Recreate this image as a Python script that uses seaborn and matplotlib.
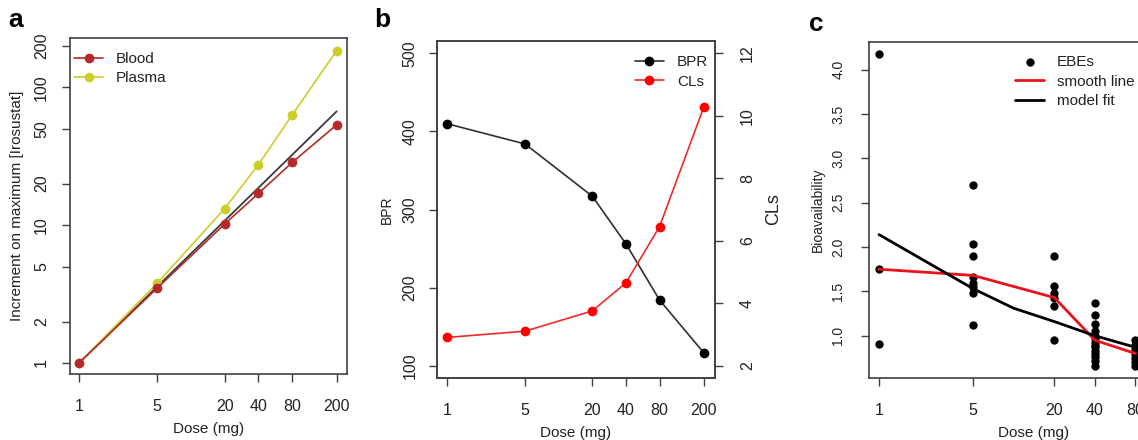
import numpy as np
import pandas as pd
import matplotlib
matplotlib.use("Agg")
import matplotlib.pyplot as plt
import seaborn as sns

# ---------------- data ----------------
dose = [1, 5, 20, 40, 80, 200]
dose_labels = ["1", "5", "20", "40", "80", "200"]

# panel a
blood = [1.0, 3.5, 10.2, 17.0, 28.5, 53.5]
plasma = [1.0, 3.8, 13.2, 27.5, 63.0, 185.0]
fit_a_dose = [1, 200]
fit_a_value = [1.0, 67.0]
a_yticks = [1, 2, 5, 10, 20, 50, 100, 200]

# panel b
bpr = [410, 384, 317, 256, 184, 116]
cls = [2.9, 3.1, 3.75, 4.65, 6.45, 10.3]
bpr_ticks = [100, 200, 300, 400, 500]
cls_ticks = [2, 4, 6, 8, 10, 12]

# panel c
ebe_d1 = [4.17, 1.75, 0.91]
ebe_d5 = [2.70, 2.03, 1.90, 1.66, 1.60, 1.55, 1.48, 1.12]
ebe_d20 = [1.90, 1.56, 1.48, 1.42, 1.34, 0.95]
ebe_d40 = [1.37, 1.23, 1.13, 1.05, 1.00, 0.97, 0.93, 0.90, 0.87, 0.83, 0.80, 0.76, 0.72, 0.66]
ebe_d80 = [0.95, 0.90, 0.85, 0.80, 0.75, 0.70, 0.66]
smooth_dose = [1, 5, 20, 40, 80]
smooth_value = [1.75, 1.68, 1.43, 0.95, 0.80]
model_dose = [1, 5, 10, 20, 40, 80]
model_value = [2.14, 1.53, 1.31, 1.16, 1.00, 0.87]
c_yticks = [1.0, 1.5, 2.0, 2.5, 3.0, 3.5, 4.0]

# ---------------- style ----------------
sns.set_theme(style="ticks")
plt.rcParams["font.family"] = ["Liberation Sans", "DejaVu Sans"]
plt.rcParams["axes.edgecolor"] = "#404040"
plt.rcParams["axes.linewidth"] = 1.2

W, H = 1138, 440
fig = plt.figure(figsize=(W / 100, H / 100), dpi=100)
TXT = "#222222"
TICK_FS = 11.5
LEG_KW = dict(frameon=False, fontsize=11, handlelength=1.9, handletextpad=0.85,
              labelspacing=0.36, borderpad=0, borderaxespad=0)


def px_axes(left, top, right, bottom):
    return fig.add_axes([left / W, 1 - bottom / H, (right - left) / W, (bottom - top) / H])


def style_axis(ax, ypad=9):
    ax.tick_params(axis="both", direction="out", length=6, width=1.0, color="#404040",
                   labelsize=TICK_FS, labelcolor=TXT)
    ax.tick_params(axis="x", pad=12)
    ax.tick_params(axis="y", pad=ypad)
    for s in ax.spines.values():
        s.set_visible(True)
        s.set_color("#404040")
        s.set_linewidth(1.2)


def set_dose_axis(ax, lo, hi):
    ax.set_xscale("log")
    ax.set_xlim(lo, hi)
    ax.minorticks_off()
    ax.set_xticks(dose)
    ax.set_xticklabels(dose_labels)


# ---------------- panel a ----------------
axa = px_axes(70, 38, 347, 374)
blood_col = "#B52A2A"
plasma_col = "#CDCD2A"
sns.lineplot(x=fit_a_dose, y=fit_a_value, ax=axa, color="#3a3a3a", lw=1.3, legend=False)
sns.lineplot(x=dose, y=plasma, ax=axa, color=plasma_col, lw=1.2, marker="o", markersize=7,
             markeredgewidth=0, label="Plasma")
sns.lineplot(x=dose, y=blood, ax=axa, color=blood_col, lw=1.2, marker="o", markersize=7,
             markeredgewidth=0, label="Blood")
axa.set_yscale("log")
set_dose_axis(axa, 0.831, 247)
axa.set_ylim(0.832, 228)
axa.minorticks_off()
axa.set_yticks(a_yticks)
axa.set_yticklabels([str(v) for v in a_yticks], rotation=90, va="center")
style_axis(axa, ypad=9)
axa.set_xlabel("Dose (mg)", fontsize=11, color=TXT, labelpad=6)
axa.set_ylabel("Increment on maximum [Irosustat]", fontsize=11, color=TXT, labelpad=7)
if axa.get_legend() is not None:
    axa.get_legend().remove()
la = axa.legend(handles=[axa.lines[2], axa.lines[1]], labels=["Blood", "Plasma"],
                loc="upper left", bbox_to_anchor=(74 / W, 1 - 52 / H),
                bbox_transform=fig.transFigure, **LEG_KW)
for t in la.get_texts():
    t.set_color(TXT)

# ---------------- panel b ----------------
axb = px_axes(437, 41, 715, 378)
sns.lineplot(x=dose, y=bpr, ax=axb, color="#303030", lw=1.2, marker="o", markersize=7,
             markeredgewidth=0, markerfacecolor="black", label="BPR")
axb.set_ylim(84, 516)
axb.set_yticks(bpr_ticks)
axb.set_yticklabels([str(v) for v in bpr_ticks], rotation=90, va="center")
axb.set_ylabel("BPR", fontsize=10, color=TXT, labelpad=6)
if axb.get_legend() is not None:
    axb.get_legend().remove()

axb2 = axb.twinx()
sns.lineplot(x=dose, y=cls, ax=axb2, color="#F02A2A", lw=1.2, marker="o", markersize=7,
             markeredgewidth=0, markerfacecolor="#FF0000", label="CLs")
axb2.set_ylim(1.6, 12.4)
axb2.set_yticks(cls_ticks)
axb2.set_yticklabels([str(v) for v in cls_ticks], rotation=90, va="center")
axb2.set_ylabel("CLs", fontsize=13, color=TXT, labelpad=7)
if axb2.get_legend() is not None:
    axb2.get_legend().remove()

# x axis set last so that twinx sharing does not reset it
set_dose_axis(axb, 0.814, 251)
style_axis(axb, ypad=8)
axb2.tick_params(axis="y", direction="out", length=6, width=1.0, color="#404040",
                 labelsize=TICK_FS, labelcolor=TXT, pad=12)
axb2.tick_params(axis="x", which="both", bottom=False, top=False, labelbottom=False)
axb.set_xlabel("Dose (mg)", fontsize=11, color=TXT, labelpad=6)

lb = axb2.legend(handles=[axb.lines[0], axb2.lines[0]], labels=["BPR", "CLs"],
                 loc="upper right", bbox_to_anchor=(708 / W, 1 - 55 / H),
                 bbox_transform=fig.transFigure, **LEG_KW)
for t in lb.get_texts():
    t.set_color(TXT)

# ---------------- panel c ----------------
axc = px_axes(869, 42, 1199, 378)
ebe_dose = ([1] * len(ebe_d1) + [5] * len(ebe_d5) + [20] * len(ebe_d20)
            + [40] * len(ebe_d40) + [80] * len(ebe_d80))
ebe_val = ebe_d1 + ebe_d5 + ebe_d20 + ebe_d40 + ebe_d80
ebe_df = pd.DataFrame({"dose": ebe_dose, "bio": ebe_val})
sns.scatterplot(data=ebe_df, x="dose", y="bio", ax=axc, color="black", s=36,
                linewidth=0, label="EBEs", zorder=3)
sns.lineplot(x=smooth_dose, y=smooth_value, ax=axc, color="#E8141B", lw=2.0,
             label="smooth line", zorder=4)
sns.lineplot(x=model_dose, y=model_value, ax=axc, color="black", lw=2.0,
             label="model fit", zorder=4)
set_dose_axis(axc, 0.843, 237)
axc.set_ylim(0.524, 4.31)
axc.minorticks_off()
axc.set_yticks(c_yticks)
axc.set_yticklabels([f"{v:.1f}" for v in c_yticks], rotation=90, va="center")
style_axis(axc, ypad=11)
axc.tick_params(axis="y", labelsize=10)
axc.set_xlabel("Dose (mg)", fontsize=11, color=TXT, labelpad=6)
axc.set_ylabel("Bioavailability", fontsize=10, color=TXT, labelpad=5)
if axc.get_legend() is not None:
    axc.get_legend().remove()
hc, lc = axc.get_legend_handles_labels()
lcg = axc.legend(handles=hc, labels=lc, loc="upper left",
                 bbox_to_anchor=(1015 / W, 1 - 55 / H), bbox_transform=fig.transFigure,
                 scatterpoints=1, **LEG_KW)
for t in lcg.get_texts():
    t.set_color(TXT)

# ---------------- panel letters ----------------
fig.text(8 / W, 1 - 27 / H, "a", fontsize=19, fontweight="bold", color="black")
fig.text(374 / W, 1 - 27 / H, "b", fontsize=19, fontweight="bold", color="black")
fig.text(809 / W, 1 - 31 / H, "c", fontsize=19, fontweight="bold", color="black")

fig.savefig("out.png", dpi=100)
